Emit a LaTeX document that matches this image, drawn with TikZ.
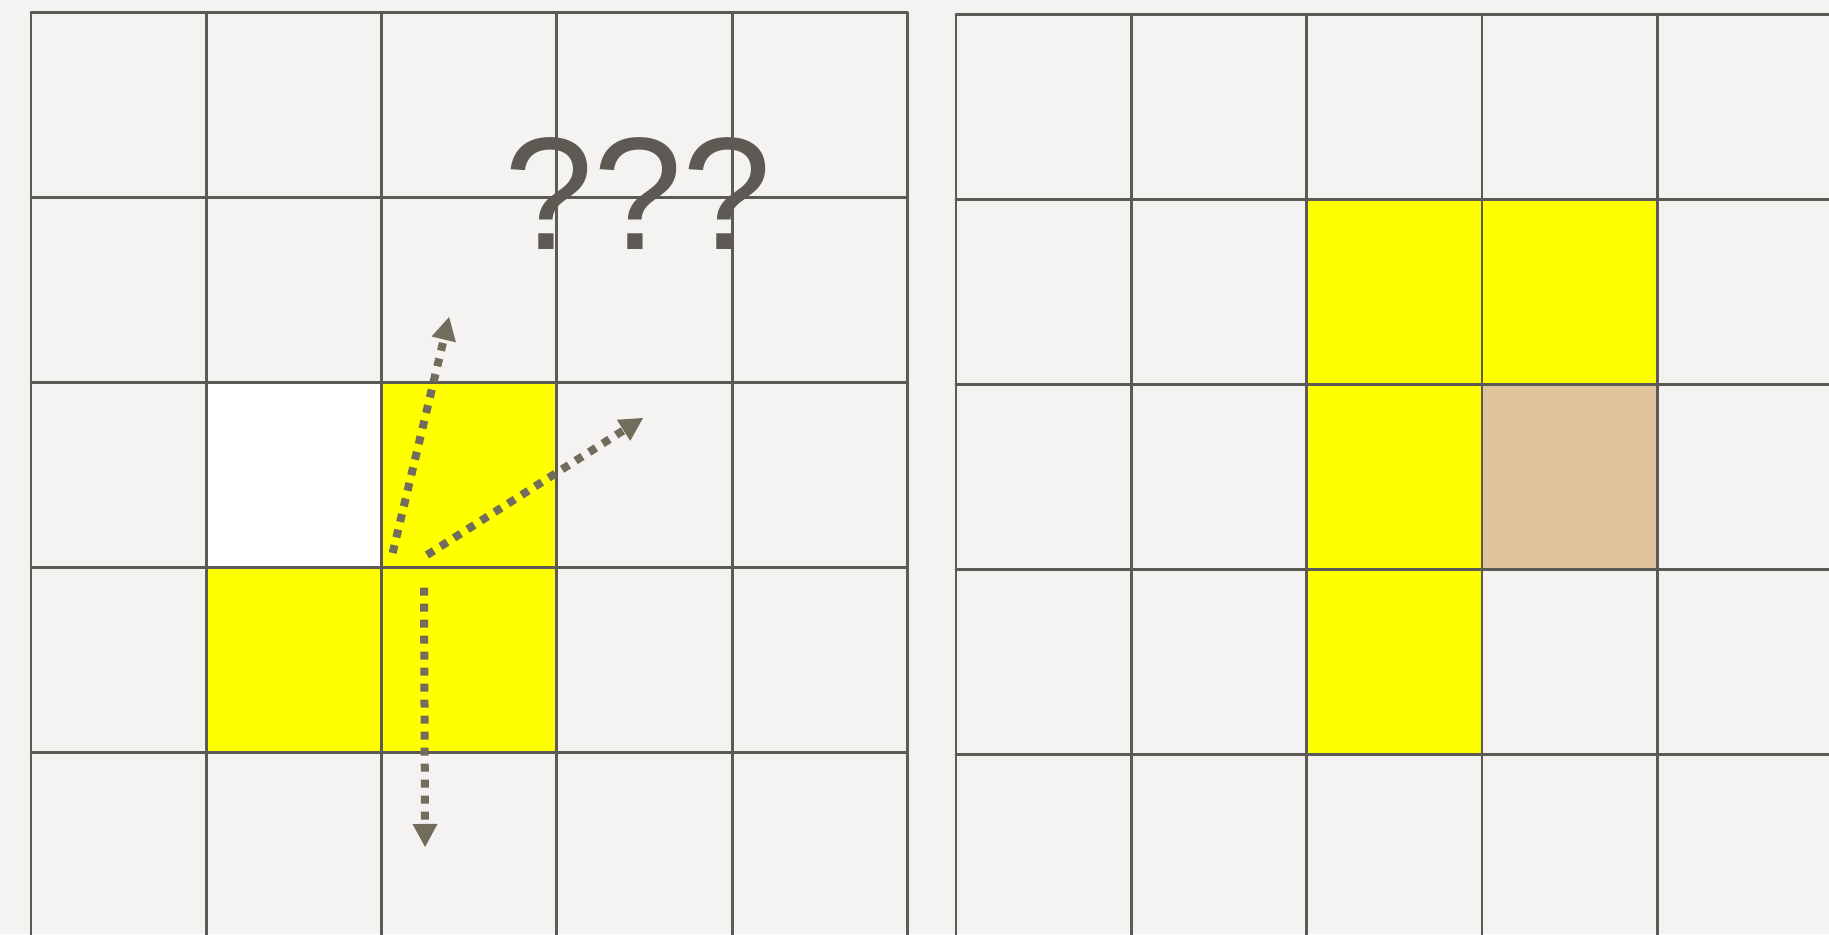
\documentclass[tikz,border=0pt]{standalone}
\usepackage{fontspec}
\newfontfamily\qfont{Liberation Sans}
\usetikzlibrary{arrows.meta}

\definecolor{nen}{HTML}{F4F3F1}
\definecolor{luoi}{HTML}{5B5A55}
\definecolor{vang}{HTML}{FFFF00}
\definecolor{nau}{HTML}{E0C49C}
\definecolor{muiten}{HTML}{726C5D}
\definecolor{chu}{HTML}{5C5A53}

\tikzset{
  duongluoi/.style={draw=luoi, line width=0.8pt},
  huong/.style={muiten, line width=0.08cm, line cap=butt, line join=miter,
    dash pattern=on 0.08cm off 0.08cm,
    -{Triangle[length=0.23cm, width=0.25cm, line width=0pt]}},
}

\begin{document}
\begin{tikzpicture}[x=1cm, y=-1cm, line cap=round, line join=round]
  % --- Khung hình ---
  \fill[nen] (0,0) rectangle (18.29,9.34);
  \useasboundingbox (0,0) rectangle (18.29,9.34);
  \clip (0,0) rectangle (18.29,9.34);

  % --- Toạ độ góc hai lưới ---
  \coordinate (L) at (0.31,0.125);
  \coordinate (R) at (9.56,0.145);

  % --- Lưới trái ---
  \begin{scope}[shift={(L)}, x=1.753cm, y=-1.849cm]
    \fill[white] (1,2) rectangle (2,3);
    \fill[vang] (2,2) rectangle (3,3);
    \fill[vang] (1,3) rectangle (3,4);
    \foreach \i in {0,...,5} \draw[duongluoi] (\i,0) -- (\i,5.5);
    \foreach \j in {0,...,4} \draw[duongluoi] (0,\j) -- (5,\j);

    % gốc và đầu các mũi tên
    \coordinate (A1) at (2.063,2.923);
    \coordinate (B1) at (2.385,1.647);
    \coordinate (A2) at (2.259,2.934);
    \coordinate (B2) at (3.491,2.193);
    \coordinate (A3) at (2.242,3.110);
    \coordinate (B3) at (2.248,4.513);

    % --- Mũi tên chấm ---
    \draw[huong] (A1) -- (B1);
    \draw[huong] (A2) -- (B2);
    \draw[huong] (A3) -- (B3);

    % --- Nhãn ---
    \node[anchor=base, inner sep=0pt, text=chu,
      font=\qfont\fontsize{45.6}{50}\selectfont] (hoi) at (3.463,1.284) {???};
  \end{scope}

  % --- Lưới phải ---
  \begin{scope}[shift={(R)}, x=1.753cm, y=-1.849cm]
    \fill[vang] (2,1) rectangle (4,2);
    \fill[vang] (2,2) rectangle (3,4);
    \fill[nau] (3,2) rectangle (4,3);
    \foreach \i in {0,...,5} \draw[duongluoi] (\i,0) -- (\i,5.5);
    \foreach \j in {0,...,4} \draw[duongluoi] (0,\j) -- (6,\j);
  \end{scope}
\end{tikzpicture}
\end{document}
